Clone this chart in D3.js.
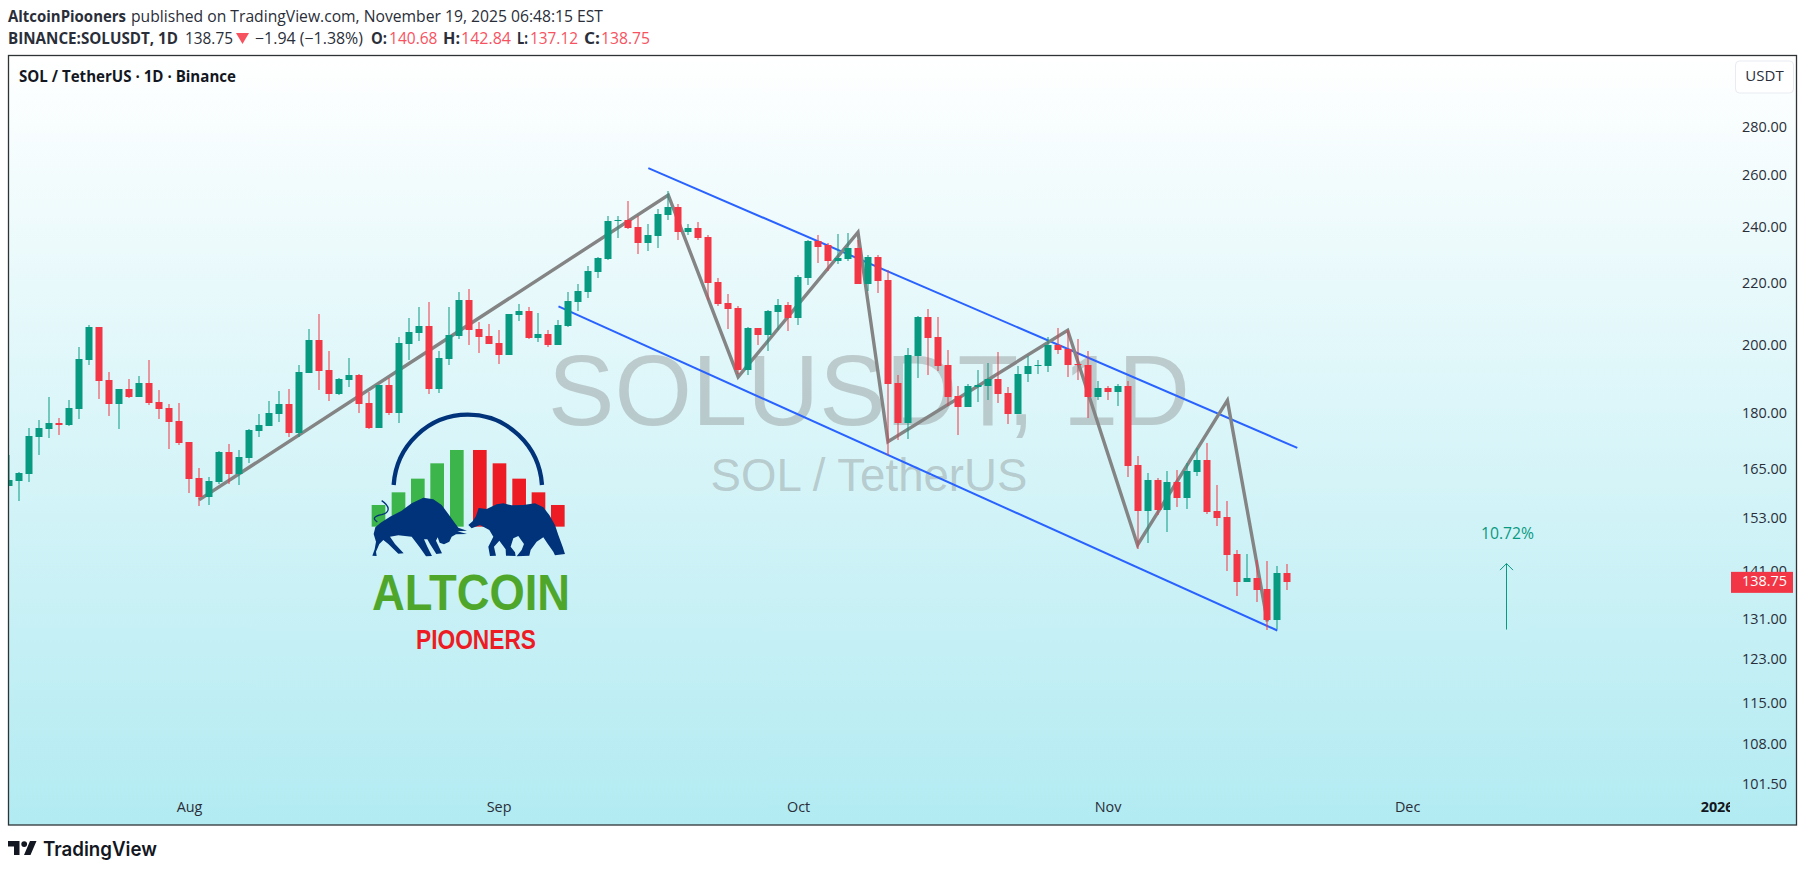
<!DOCTYPE html>
<html>
  <head>
  <title>SOL / TetherUS</title>
  <style>
    body, html { margin: 0; background: #fff; }
    svg { display: block; }
    text { font-family: "Open Sans", sans-serif; fill: #2a2e39; }
    .axis text { font-size: 14.4px; }
    .axis path, .axis line { display: none; }
  </style>
  </head>
  <body>
  <svg id="chart" width="1806" height="872"></svg>

  <script src="https://d3js.org/d3.v7.min.js"></script>
  <script>
    const firstDay = Date.UTC(2025, 6, 14)

    const opens = [
      161.0,162.3,164.0,173.7,175.8,177.5,176.9,181.4,195.6,205.9,189.7,182.8,187.1,184.8,188.8,183.3,181.6,178.0,172.4,163.0,158.3,162.0,169.7,164.0,168.1,175.3,176.7,
      180.0,182.8,174.8,191.7,201.8,192.6,185.6,189.7,191.1,183.1,176.1,188.2,180.2,200.5,204.0,206.2,187.1,195.9,203.0,214.6,205.2,203.0,200.8,197.1,209.7,211.0,202.4,
      203.6,200.2,206.2,214.0,217.3,224.1,228.7,242.5,242.9,240.3,234.4,236.9,244.7,247.8,238.4,239.9,236.6,220.7,213.6,212.0,192.6,205.5,203.3,210.7,213.0,208.7,222.1,
      235.1,233.7,228.0,228.7,232.6,220.0,229.4,221.4,188.8,177.5,196.8,209.1,202.7,194.1,185.0,181.9,187.6,187.9,190.0,185.9,180.0,191.4,193.9,193.8,200.2,199.0,194.4,
      194.1,184.8,187.3,186.2,187.9,166.3,154.9,162.5,155.2,162.0,158.1,164.5,167.6,154.9,153.5,145.0,138.8,139.7,137.3,130.9,140.68]
    const highs = [
      168.9,164.5,176.1,178.3,184.8,178.9,183.9,199.6,206.5,205.9,192.0,187.1,190.0,190.9,195.6,186.8,182.8,183.1,172.4,165.6,163.3,170.0,171.8,170.2,175.8,180.0,183.6,
      186.5,187.1,194.1,205.2,210.0,198.4,190.3,196.2,191.4,186.2,188.2,190.3,202.7,208.7,212.3,214.0,198.4,212.3,217.3,218.3,207.5,206.8,204.9,210.0,213.3,212.3,210.4,
      204.9,208.1,217.3,220.0,226.2,229.4,244.4,244.4,250.1,244.4,241.4,247.0,254.0,248.9,241.4,242.1,237.3,222.1,216.6,212.6,205.9,205.5,211.3,215.0,214.0,223.1,235.5,
      237.3,234.4,237.7,238.0,235.5,230.1,230.1,224.8,191.1,199.3,209.4,211.7,209.1,198.7,187.9,188.5,192.6,194.7,198.1,187.6,193.8,196.8,195.6,202.7,205.5,204.9,202.1,
      198.4,189.4,187.9,188.5,189.4,168.7,164.3,163.0,164.8,165.1,166.9,170.8,172.1,161.3,157.3,145.9,145.0,143.6,143.4,142.3,142.84]
    const lows = [
      160.9,157.4,161.9,168.9,173.4,174.2,176.7,178.6,194.1,184.2,179.4,175.8,184.5,184.8,182.5,178.6,170.5,171.6,159.3,156.1,156.4,161.5,161.5,161.3,166.9,173.7,176.7,
      177.8,173.7,173.7,191.7,186.8,183.6,185.3,187.6,180.2,175.8,176.1,179.7,177.5,195.6,201.5,185.6,185.9,194.1,202.1,200.2,197.8,200.5,194.4,197.1,207.8,202.1,201.1,
      199.6,200.2,205.9,211.0,215.3,222.1,228.3,236.2,239.5,230.4,231.5,232.6,242.9,235.5,237.3,235.5,214.6,212.6,205.2,191.4,191.1,200.2,198.4,204.9,204.6,206.5,219.7,
      227.3,224.5,226.9,228.0,220.0,217.6,217.0,168.9,172.9,173.2,190.3,191.1,192.3,182.2,174.2,181.9,183.3,183.9,183.1,177.2,180.0,189.1,191.4,192.0,197.5,190.6,189.7,
      178.9,183.9,183.9,182.2,163.3,146.1,147.5,154.0,150.0,155.9,155.4,163.5,154.2,151.4,141.2,135.9,138.8,134.6,128.9,129.1,137.12]
    const closes = [
      162.5,164.3,174.0,176.1,177.5,176.9,181.6,195.9,205.9,189.4,182.8,187.1,184.8,188.8,183.1,181.4,177.8,172.1,162.8,158.3,162.3,169.7,164.0,168.4,175.6,176.9,180.2,
      182.8,174.8,192.0,201.8,192.3,185.6,190.0,191.1,182.8,176.1,188.2,180.2,200.8,204.3,206.2,187.1,196.2,203.3,214.6,204.9,202.7,200.5,197.1,210.0,211.0,202.4,203.6,
      200.2,206.5,214.3,217.6,224.5,229.0,242.5,242.9,239.9,234.4,237.3,245.1,247.8,238.4,239.9,236.2,220.3,213.3,211.7,192.6,205.5,203.3,211.0,213.0,208.7,222.4,235.1,
      232.9,228.0,229.0,232.6,220.0,229.4,221.0,188.5,177.5,197.1,209.1,202.4,193.8,184.8,181.9,187.9,188.2,190.0,185.6,180.0,191.4,193.8,194.1,200.2,198.7,194.1,194.1,
      184.8,187.3,186.2,187.9,166.1,154.9,162.5,155.2,162.0,158.1,164.8,167.6,154.7,153.3,144.7,138.8,139.7,137.1,130.9,140.8,138.75]

    const priceTicks = [280, 260, 240, 220, 200, 180, 165, 153, 141, 131, 123, 115, 108, 101.5]
    const monthTicks = [[2025, 7, 'Aug'], [2025, 8, 'Sep'], [2025, 9, 'Oct'], [2025, 10, 'Nov'], [2025, 11, 'Dec'], [2026, 0, '2026']]

    // drawings, as candle number and price
    const zigzagBars = [19, 66, 73, 85, 88, 106, 113, 122, 126]
    const zigzagPrices = [157.6, 252.4, 190.6, 238.3, 172.4, 204.8, 147.0, 183.8, 130.6]
    const upperBars = [64, 129]
    const upperPrices = [263.1, 170.8]
    const lowerBars = [55, 127]
    const lowerPrices = [212.5, 128.8]
    const arrowBars = [150, 150]
    const arrowPrices = [129.0, 142.83]
    const lastClose = 138.75

    const GREEN = '#089981', RED = '#f23645', PALE_RED = '#f7525f'
    const paneL = 8.5, paneT = 55.5, paneR = 1796.5, paneB = 825, axisX = 1730

    const dayOf = i => new Date(firstDay + i * 864e5)

    const x = d3.scaleUtc()
      .domain([dayOf(0), dayOf(128)])
      .range([9.33, 1287.3])

    const y = d3.scaleLog()
      .domain([280, 101.5])
      .range([127.9, 784.7])

    const svg = d3.select('#chart')
    const defs = svg.append('defs')

    const grad = defs.append('linearGradient')
      .attr('id', 'bg').attr('x1', 0).attr('x2', 0).attr('y1', 0).attr('y2', 1)
    grad.append('stop').attr('offset', 0).attr('stop-color', '#ffffff')
    grad.append('stop').attr('offset', 1).attr('stop-color', '#b2ebf2')

    defs.append('clipPath').attr('id', 'pane').append('rect')
      .attr('x', paneL).attr('y', paneT).attr('width', axisX - paneL).attr('height', paneB - paneT)

    svg.append('rect')
      .attr('x', paneL).attr('y', paneT).attr('width', paneR - paneL).attr('height', paneB - paneT)
      .attr('fill', 'url(#bg)')

    // header lines ---------------------------------------------

    function label(str, x0, x1, base, size, weight, fill) {
      return svg.append('text')
        .text(str)
        .attr('x', x0).attr('y', base)
        .attr('textLength', x1 - x0).attr('lengthAdjust', 'spacingAndGlyphs')
        .style('font-size', size + 'px').style('font-weight', weight).style('fill', fill)
    }

    label('AltcoinPiooners', 8, 126, 22, 15.5, 700, '#2a2e39')
    label('published on TradingView.com, November 19, 2025 06:48:15 EST', 131, 603, 22, 15.5, 400, '#2a2e39')
    label('BINANCE:SOLUSDT, 1D', 8, 178, 44, 15.5, 700, '#2a2e39')
    label('138.75', 185, 233, 44, 15.5, 400, '#2a2e39')
    svg.append('path').attr('d', 'M236,33H249L242.5,44Z').attr('fill', PALE_RED)
    label('\u22121.94 (\u22121.38%)', 255, 363, 44, 15.5, 400, '#2a2e39')
    label('O:', 371, 387, 44, 15.5, 700, '#2a2e39')
    label('140.68', 389, 437.5, 44, 15.5, 400, PALE_RED)
    label('H:', 443, 460, 44, 15.5, 700, '#2a2e39')
    label('142.84', 461, 511, 44, 15.5, 400, PALE_RED)
    label('L:', 517, 528, 44, 15.5, 700, '#2a2e39')
    label('137.12', 530, 578, 44, 15.5, 400, PALE_RED)
    label('C:', 584, 600, 44, 15.5, 700, '#2a2e39')
    label('138.75', 601, 650, 44, 15.5, 400, PALE_RED)
    label('SOL / TetherUS \u00b7 1D \u00b7 Binance', 19, 236, 82, 15.5, 700, '#131722')

    // watermark ---------------------------------------------

    const wm = svg.append('g').attr('text-anchor', 'middle')
    wm.append('text').text('SOLUSDT, 1D')
      .attr('x', 869).attr('y', 425)
      .style('font-family', '"Liberation Sans"').style('font-size', '99.6px')
      .style('fill', 'rgba(128,128,128,0.37)')
    wm.append('text').text('SOL / TetherUS')
      .attr('x', 869).attr('y', 491)
      .style('font-family', '"Liberation Sans"').style('font-size', '45.6px')
      .style('fill', 'rgba(128,128,128,0.37)')

    // logo ---------------------------------------------

    const logo = svg.append('g').attr('transform', 'translate(340,390) scale(0.3333)')
    logo.append('path')
      .attr('d', 'M161,285A223,226 0 0 1 606,285')
      .attr('fill', 'none').attr('stroke', '#00337a').attr('stroke-width', 13)
    const logoBarsX = [95, 155, 213, 271, 330, 399, 458, 517, 575, 633]
    const logoBarsTop = [345, 307, 266, 220, 180, 180, 220, 266, 307, 345]
    logo.selectAll('rect').data(logoBarsX).join('rect')
      .attr('x', d => d)
      .attr('y', (d, i) => logoBarsTop[i])
      .attr('width', 41)
      .attr('height', (d, i) => 410 - logoBarsTop[i])
      .attr('fill', (d, i) => i < 5 ? '#3cb54a' : '#ed1c24')
    logo.append('path')
      .attr('d', 'M97,497L104,478L108,455L101,432L106,412L122,398L150,380L185,362L215,340L250,323L280,328L305,345L325,372L345,400L355,413L381,422L352,424L381,432L348,433L335,440L328,455L312,463L299,458L293,442L288,452L306,490L289,492L270,462L262,448L252,448L262,470L276,498L258,499L238,470L215,440L175,436L150,440L165,462L191,490L175,491L145,462L130,450L118,462L108,485L110,498Z')
      .attr('fill', '#00337a')
    logo.append('path')
      .attr('d', 'M112,396C95,385 105,378 125,374C150,368 152,350 125,332')
      .attr('fill', 'none').attr('stroke', '#00337a').attr('stroke-width', 4)
    logo.append('path')
      .attr('d', 'M385,405L398,394L408,378L416,354L440,357L470,343L490,340L515,346L550,345L585,340L610,352L628,375L645,405L655,435L668,470L675,492L645,496L640,485L622,460L610,442L590,455L572,480L568,497L530,499L545,480L552,462L535,438L520,445L512,470L525,487L527,498L498,497L497,478L478,452L462,470L468,497L450,498L445,470L460,440L448,420L420,405L395,415Z')
      .attr('fill', '#00337a')
    label('ALTCOIN', 372, 570, 610, 50, 700, '#4ea72a').style('font-family', '"Liberation Sans"')
    label('PIOONERS', 416, 536, 649, 28, 700, '#ed1c24').style('font-family', '"Liberation Sans"')

    // drawings, under the candles ---------------------------------------------

    const plot = svg.append('g').attr('clip-path', 'url(#pane)')

    const line = d3.line()
      .x(d => x(dayOf(d[0])))
      .y(d => y(d[1]))

    plot.append('path')
      .attr('d', line(d3.zip(upperBars, upperPrices)))
      .attr('fill', 'none').attr('stroke', '#2962ff').attr('stroke-width', 2)
    plot.append('path')
      .attr('d', line(d3.zip(lowerBars, lowerPrices)))
      .attr('fill', 'none').attr('stroke', '#2962ff').attr('stroke-width', 2)
    plot.append('path')
      .attr('d', line(d3.zip(zigzagBars, zigzagPrices)))
      .attr('fill', 'none').attr('stroke', '#848484').attr('stroke-width', 3.4)
      .attr('stroke-linejoin', 'miter')

    // candles ---------------------------------------------

    const candles = plot.selectAll('g.candle')
      .data(opens.map((o, i) => i))
      .join('g')
      .attr('class', 'candle')
      .attr('fill', i => closes[i] >= opens[i] ? GREEN : RED)

    candles.append('rect')
      .attr('x', i => Math.round(x(dayOf(i))) - 0.5)
      .attr('y', i => Math.round(y(highs[i])))
      .attr('width', 1)
      .attr('height', i => Math.round(y(lows[i])) - Math.round(y(highs[i])))

    candles.append('rect')
      .attr('x', i => Math.round(x(dayOf(i))) - 3.5)
      .attr('y', i => Math.round(y(Math.max(opens[i], closes[i]))))
      .attr('width', 7)
      .attr('height', i => Math.max(1, Math.round(y(Math.min(opens[i], closes[i]))) - Math.round(y(Math.max(opens[i], closes[i])))))

    // long position arrow ---------------------------------------------

    const ax = Math.round(x(dayOf(arrowBars[0]))) - 0.5
    const ay0 = y(arrowPrices[0]), ay1 = y(arrowPrices[1])
    plot.append('path')
      .attr('d', `M${ax},${ay0}V${ay1}M${ax - 6.5},${ay1 + 6.5}L${ax},${ay1}L${ax + 6.5},${ay1 + 6.5}`)
      .attr('fill', 'none').attr('stroke', GREEN).attr('stroke-width', 1)
    label('10.72%', 1481, 1534, 539, 16, 400, GREEN)

    // axes ---------------------------------------------

    const timeAxis = svg.append('g')
      .attr('class', 'axis')
      .attr('clip-path', 'url(#pane)')
      .append('g')
      .attr('transform', 'translate(0,803)')
      .call(d3.axisBottom(x)
        .tickValues(monthTicks.map(d => new Date(Date.UTC(d[0], d[1], 1))))
        .tickFormat((d, i) => monthTicks[i][2])
        .tickSize(0).tickPadding(0))
    timeAxis.selectAll('text')
      .attr('y', 0).attr('dy', '0.36em')
      .style('font-weight', (d, i) => i === 5 ? 700 : 400)
      .style('fill', (d, i) => i === 5 ? '#131722' : '#2a2e39')
      .attr('transform', 'translate(0,4)')

    const priceAxis = svg.append('g')
      .attr('class', 'axis')
      .attr('transform', 'translate(1787,-1)')
      .call(d3.axisLeft(y)
        .tickValues(priceTicks)
        .tickFormat(d3.format('.2f'))
        .tickSize(0).tickPadding(0))
    priceAxis.attr('font-family', null).attr('font-size', null)

    // currency button and last price tag ---------------------------------------------

    svg.append('rect')
      .attr('x', 1735.5).attr('y', 61).attr('width', 58).attr('height', 32).attr('rx', 4)
      .attr('fill', '#ffffff').attr('stroke', '#e8ebf2')
    svg.append('text').text('USDT')
      .attr('x', 1764.5).attr('y', 76).attr('dy', '0.35em').attr('text-anchor', 'middle')
      .style('font-size', '15px')

    const tagY = y(lastClose)
    svg.append('rect')
      .attr('x', 1731).attr('y', tagY - 10.5).attr('width', 62).attr('height', 21)
      .attr('fill', RED)
    svg.append('text').text(lastClose.toFixed(2))
      .attr('x', 1787).attr('y', tagY - 1).attr('dy', '0.35em').attr('text-anchor', 'end')
      .style('font-size', '14.4px').style('fill', '#ffffff')

    // frame and brand ---------------------------------------------

    svg.append('rect')
      .attr('x', paneL).attr('y', paneT).attr('width', paneR - paneL).attr('height', paneB - paneT)
      .attr('fill', 'none').attr('stroke', '#2e3336').attr('stroke-width', 1.3)

    svg.append('path')
      .attr('d', 'M8,841H19.5V855H14V846.5H8ZM24.2,841.2A2.9,2.9 0 1 1 24.2,847A2.9,2.9 0 1 1 24.2,841.2ZM30,841H36.5L30.5,855H24Z')
      .attr('fill', '#131722')
    svg.append('text').text('TradingView')
      .attr('x', 43).attr('y', 856)
      .attr('textLength', 114).attr('lengthAdjust', 'spacingAndGlyphs')
      .style('font-family', 'Inter').style('font-size', '20px').style('font-weight', 600).style('fill', '#131722')
  </script>

  </body>
</html>
